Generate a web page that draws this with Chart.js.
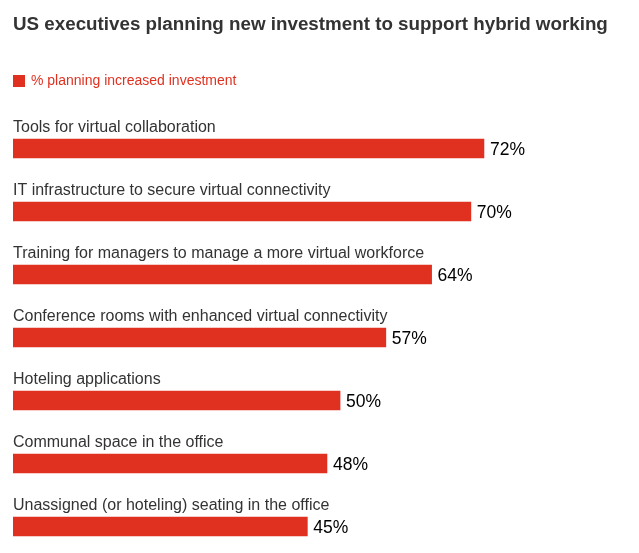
<!DOCTYPE html>
<html>
<head>
<meta charset="utf-8">
<script src="https://cdn.jsdelivr.net/npm/chart.js@4"></script>
<style>
  html, body { margin: 0; padding: 0; background: #fff; overflow: hidden; }
  #wrap { position: relative; width: 639px; height: 560px; }
</style>
</head>
<body>
<div id="wrap"><canvas id="chart"></canvas></div>
<script>
const categories = [
    'Tools for virtual collaboration',
    'IT infrastructure to secure virtual connectivity',
    'Training for managers to manage a more virtual workforce',
    'Conference rooms with enhanced virtual connectivity',
    'Hoteling applications',
    'Communal space in the office',
    'Unassigned (or hoteling) seating in the office'
];
const values = [72, 70, 64, 57, 50, 48, 45];
const seriesName = '% planning increased investment';
const chartTitle = 'US executives planning new investment to support hybrid working';

const red = '#e03120';
const font = "'Liberation Sans', Arial, Helvetica, sans-serif";

const labelPlugin = {
    id: 'labels',
    afterDatasetsDraw(chart) {
        const ctx = chart.ctx;
        const meta = chart.getDatasetMeta(0);
        ctx.save();
        ctx.textBaseline = 'middle';
        ctx.textAlign = 'left';

        ctx.fillStyle = '#333';
        ctx.font = 'bold 18.8px ' + font;
        ctx.fillText(chartTitle, 13, 25);

        ctx.fillStyle = red;
        ctx.fillRect(13, 75, 12, 12);
        ctx.font = '14px ' + font;
        ctx.fillText(seriesName, 31, 81);

        meta.data.forEach((bar, i) => {
            ctx.fillStyle = '#333';
            ctx.font = '16px ' + font;
            ctx.fillText(categories[i], 13, bar.y - 21);
            ctx.fillStyle = '#000';
            ctx.font = '17.5px ' + font;
            ctx.fillText(values[i] + '%', bar.x + 6, bar.y + 2);
        });
        ctx.restore();
    }
};

new Chart(document.getElementById('chart'), {
    type: 'bar',
    data: {
        labels: categories,
        datasets: [{
            label: seriesName,
            data: values,
            backgroundColor: red,
            barThickness: 19,
            borderWidth: 0
        }]
    },
    options: {
        indexAxis: 'y',
        responsive: true,
        maintainAspectRatio: false,
        animation: false,
        layout: { padding: { top: 117, bottom: 2, left: 13, right: 19 } },
        plugins: {
            legend: { display: false },
            tooltip: { enabled: false }
        },
        scales: {
            x: { display: false, min: 0, max: 92.8 },
            y: { display: false }
        }
    },
    plugins: [labelPlugin]
});
</script>
</body>
</html>
